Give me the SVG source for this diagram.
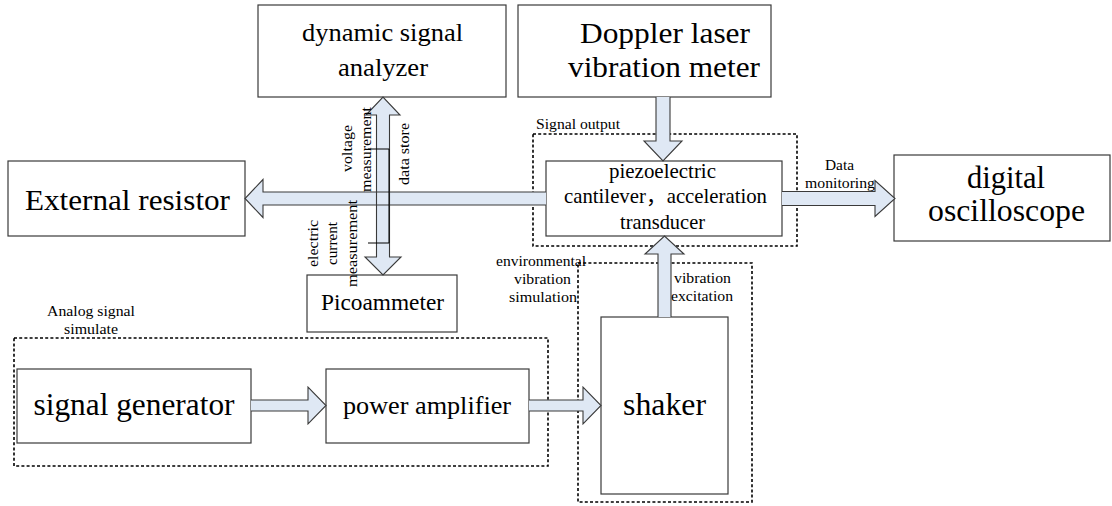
<svg xmlns="http://www.w3.org/2000/svg" width="1112" height="506" viewBox="0 0 1112 506">
  <style>
    .box { fill: #ffffff; stroke: #3a3a3a; stroke-width: 1.2; }
    .zone { fill: none; stroke: #000000; stroke-width: 1.6; stroke-dasharray: 3 2.2; }
    .arrow-fill { fill: #dfe8f4; stroke: none; }
    .arrow-line { fill: none; stroke: #3a3a3a; stroke-width: 1.1; stroke-linejoin: miter; }
    .lead { fill: none; stroke: #000000; stroke-width: 1; }
    text { font-family: "Liberation Serif", "Times New Roman", Times, serif; fill: #000000; }
    .cjk { font-family: "Liberation Serif", "Times New Roman", "Noto Sans CJK SC", serif; }
    .big { font-size: 31px; }
    .big2 { font-size: 29px; }
    .mid { font-size: 26px; }
    .med { font-size: 21px; }
    .small { font-size: 15.5px; }
    .c { text-anchor: middle; }
  </style>

  <!-- dashed grouping zones -->
  <g id="zone-signal-output">
    <rect class="zone" x="533" y="134" width="264" height="112"/>
    <text class="small" x="536" y="129" textLength="84" lengthAdjust="spacingAndGlyphs">Signal output</text>
  </g>
  <g id="zone-environment">
    <rect class="zone" x="578" y="263" width="174" height="239"/>
  </g>
  <g id="zone-analog">
    <rect class="zone" x="14" y="338" width="534" height="128"/>
    <text class="small c" x="91" y="316" textLength="88" lengthAdjust="spacingAndGlyphs">Analog signal</text>
    <text class="small c" x="91" y="334" textLength="54" lengthAdjust="spacingAndGlyphs">simulate</text>
  </g>

  <!-- nodes -->
  <g id="dynamic-signal-analyzer">
    <rect class="box" x="258" y="5" width="248" height="92"/>
    <text class="mid c" x="382.5" y="41" textLength="161" lengthAdjust="spacingAndGlyphs">dynamic signal</text>
    <text class="mid c" x="383" y="76" textLength="90" lengthAdjust="spacingAndGlyphs">analyzer</text>
  </g>
  <g id="doppler-laser-vibrometer">
    <rect class="box" x="518" y="5" width="253" height="92"/>
    <text class="big2 c" x="665" y="43" textLength="170" lengthAdjust="spacingAndGlyphs">Doppler laser</text>
    <text class="big2 c" x="664" y="77" textLength="192" lengthAdjust="spacingAndGlyphs">vibration meter</text>
  </g>
  <g id="external-resistor">
    <rect class="box" x="8" y="161" width="237" height="75"/>
    <text class="big2 c" x="127.5" y="210" textLength="205" lengthAdjust="spacingAndGlyphs">External resistor</text>
  </g>
  <g id="piezo-cantilever">
    <rect class="box" x="546" y="161" width="236" height="75"/>
    <text class="med c" x="662.5" y="178" textLength="107" lengthAdjust="spacingAndGlyphs">piezoelectric</text>
    <text class="med c cjk" x="665.5" y="203" textLength="203" lengthAdjust="spacingAndGlyphs">cantilever，acceleration</text>
    <text class="med c" x="662.5" y="229" textLength="85" lengthAdjust="spacingAndGlyphs">transducer</text>
  </g>
  <g id="digital-oscilloscope">
    <rect class="box" x="894" y="155" width="216" height="86"/>
    <text class="big c" x="1006" y="188" textLength="78" lengthAdjust="spacingAndGlyphs">digital</text>
    <text class="big c" x="1006.5" y="221" textLength="157" lengthAdjust="spacingAndGlyphs">oscilloscope</text>
  </g>
  <g id="picoammeter">
    <rect class="box" x="307" y="275" width="150" height="57"/>
    <text class="c" font-size="23px" x="382.5" y="310" textLength="123" lengthAdjust="spacingAndGlyphs">Picoammeter</text>
  </g>
  <g id="signal-generator">
    <rect class="box" x="17" y="369" width="234" height="74"/>
    <text class="big c" x="134" y="415" textLength="201" lengthAdjust="spacingAndGlyphs">signal generator</text>
  </g>
  <g id="power-amplifier">
    <rect class="box" x="326" y="369" width="203" height="74"/>
    <text class="mid c" x="427" y="414" textLength="168" lengthAdjust="spacingAndGlyphs">power amplifier</text>
  </g>
  <g id="shaker">
    <rect class="box" x="601" y="317" width="127" height="177"/>
    <text class="big c" x="664.5" y="415" textLength="83" lengthAdjust="spacingAndGlyphs">shaker</text>
  </g>

  <!-- connectors: fills first, outlines on top so crossing edges stay visible -->
  <g id="connectors">
    <g class="arrow-fill">
      <path id="to-resistor" d="M546,192 H263 V179.5 L245,198.5 L263,217.5 V205 H546 Z"/>
      <path id="to-oscilloscope" d="M782,191.5 H875 V180.5 L895,198.5 L875,216.5 V205.5 H782 Z"/>
      <path id="from-doppler" d="M656,97 V141 H644 L663,161 L682,141 H670 V97 Z"/>
      <path id="from-shaker" d="M658,317 V254 H645 L664.5,236 L684,254 H671 V317 Z"/>
      <path id="analyzer-picoammeter" d="M376.5,115 H366 L383,97 L400,115 H389.5 V257 H401 L383,275 L365,257 H376.5 Z"/>
      <path id="gen-to-amp" d="M251,400 H308 V387 L326,405.5 L308,424 V411 H251 Z"/>
      <path id="amp-to-shaker" d="M529,400 H583 V387 L601,405.5 L583,424 V411 H529 Z"/>
    </g>
    <g class="arrow-line">
      <path d="M546,192 H263 V179.5 L245,198.5 L263,217.5 V205 H546"/>
      <path d="M782,191.5 H875 V180.5 L895,198.5 L875,216.5 V205.5 H782"/>
      <path d="M656,97 V141 H644 L663,161 L682,141 H670 V97"/>
      <path d="M658,317 V254 H645 L664.5,236 L684,254 H671 V317"/>
      <path d="M376.5,115 H366 L383,97 L400,115 H389.5 V257 H401 L383,275 L365,257 H376.5 Z"/>
      <path d="M251,400 H308 V387 L326,405.5 L308,424 V411 H251"/>
      <path d="M529,400 H583 V387 L601,405.5 L583,424 V411 H529"/>
    </g>
    <!-- measurement bracket inside the analyzer/picoammeter link -->
    <polyline class="lead" points="368,149 389,149 389,243 368,243"/>

    <!-- connector labels -->
    <text class="small c" transform="translate(352,148.5) rotate(-90)" textLength="47" lengthAdjust="spacingAndGlyphs">voltage</text>
    <text class="small c" transform="translate(371,149.5) rotate(-90)" textLength="85" lengthAdjust="spacingAndGlyphs">measurement</text>
    <text class="small c" transform="translate(409,154) rotate(-90)" textLength="62" lengthAdjust="spacingAndGlyphs">data store</text>
    <text class="small c" transform="translate(318,243.5) rotate(-90)" textLength="47" lengthAdjust="spacingAndGlyphs">electric</text>
    <text class="small c" transform="translate(337,243.5) rotate(-90)" textLength="43" lengthAdjust="spacingAndGlyphs">current</text>
    <text class="small c" transform="translate(357,243.5) rotate(-90)" textLength="87" lengthAdjust="spacingAndGlyphs">measurement</text>
    <text class="small c" x="839.5" y="170" textLength="29" lengthAdjust="spacingAndGlyphs">Data</text>
    <text class="small c" x="840" y="188" textLength="70" lengthAdjust="spacingAndGlyphs">monitoring</text>
    <text class="small c" x="541" y="266" textLength="90" lengthAdjust="spacingAndGlyphs">environmental</text>
    <text class="small c" x="542.5" y="284" textLength="57" lengthAdjust="spacingAndGlyphs">vibration</text>
    <text class="small c" x="543" y="302" textLength="68" lengthAdjust="spacingAndGlyphs">simulation</text>
    <text class="small c" x="702.5" y="283" textLength="57" lengthAdjust="spacingAndGlyphs">vibration</text>
    <text class="small c" x="702" y="301" textLength="62" lengthAdjust="spacingAndGlyphs">excitation</text>
  </g>
</svg>
